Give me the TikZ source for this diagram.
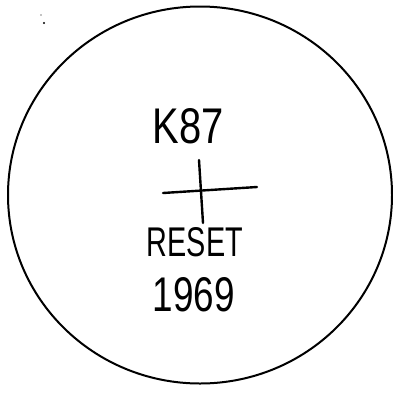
\documentclass[tikz,border=0pt]{standalone}
\usepackage{graphicx}
\usepackage{fontspec}
\setmainfont{Liberation Sans}
\usetikzlibrary{shapes.geometric}
\tikzset{
  ink/.style={line width=2pt, line cap=round, black},
  hand/.style={inner sep=0pt, anchor=center}
}
\begin{document}
\begin{tikzpicture}[x=1pt,y=-1pt]
\useasboundingbox (0,0) rectangle (393,392);
\fill[white] (0,0) rectangle (393,392);
% speck dots
\fill (41,15) circle (0.7pt);
\fill (44,23) circle (1.2pt);
% ring
\node[ink, draw, ellipse, minimum width=384pt, minimum height=377pt, inner sep=0pt] (ring) at (200,195) {};
% texts
\node[hand] (k87) at (188,126) {\resizebox{71pt}{35pt}{K87}};
\node[hand] (reset) at (195,242) {\resizebox{96pt}{29pt}{RESET}};
\node[hand] (year) at (194,295) {\resizebox{82pt}{34pt}{1969}};
% cross
\coordinate (vt) at (199,160);
\coordinate (vb) at (203,223);
\coordinate (hl) at (163,193);
\coordinate (hr) at (257,187);
\draw[ink, line width=2.4pt] (vt) -- (vb);
\draw[ink, line width=2.4pt] (hl) -- (hr);
\end{tikzpicture}
\end{document}
